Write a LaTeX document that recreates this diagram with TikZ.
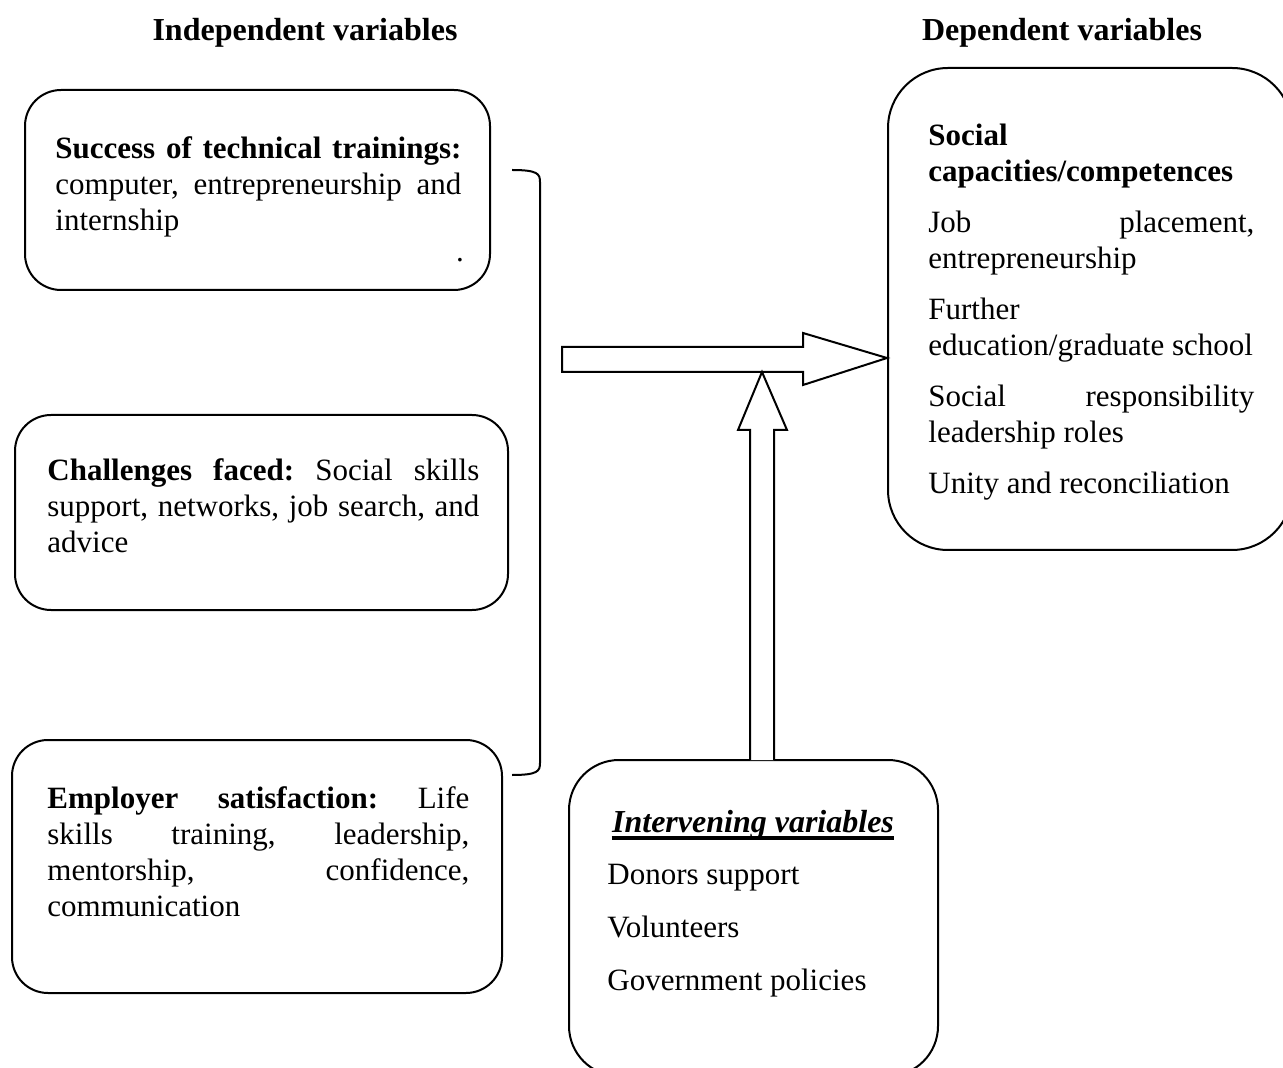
\documentclass[tikz,border=0pt]{standalone}
\usepackage{fontspec}
\setmainfont{Liberation Serif}
\usetikzlibrary{fit}
\hyphenpenalty=10000
\exhyphenpenalty=10000
\tolerance=10000

\tikzset{
  heading/.style={anchor=base, inner sep=0pt, font=\fontsize{16}{18}\selectfont\bfseries},
  varbox/.style={draw, line width=1pt, rounded corners=18pt, inner sep=0pt},
  vartext/.style={anchor=north west, inner sep=0pt, align=justify, font=\fontsize{15.5}{18}\selectfont\frenchspacing},
  blockarrow/.style={draw, line width=1pt, fill=white, line join=miter},
}
\newcommand{\itemgap}{\par\vspace{7.5pt}}

\begin{document}
\begin{tikzpicture}[x=0.5pt, y=-0.5pt]
        \useasboundingbox (0,0) rectangle (1283,1068);
        \clip (0,0) rectangle (1283,1068);

        % Headings
        \node[heading] (indep) at (305,41) {Independent variables};
        \node[heading] (dep) at (1062,41) {Dependent variables};

        % Boxes for independent variables
        \node[varbox, fit={(25,90) (490,290)}] (succbox) {};
        \node[varbox, fit={(15,415) (508,610)}] (chalbox) {};
        \node[varbox, fit={(12,740) (502,993)}] (empbox) {};

        \node[vartext, text width=203pt] (succtext) at (55,136)
            {\textbf{Success of technical trainings:} computer, entrepreneurship and internship};
        \node[anchor=base, inner sep=0pt, font=\fontsize{15.5}{18}\selectfont] (dot) at (460,262) {.};
        \node[vartext, text width=216pt] (chaltext) at (47,458)
            {\textbf{Challenges faced:} Social skills support, networks, job search, and advice};
        \node[vartext, text width=211pt] (emptext) at (47,786)
            {\textbf{Employer satisfaction:} Life skills training, leadership, mentorship, confidence, communication};

        % Box for dependent variables
        \node[varbox, rounded corners=30pt, fit={(888,68) (1292,550)}] (depbox) {};
        \node[vartext, text width=163pt] (deptext) at (928,124)
            {\textbf{Social capacities/competences}\itemgap
             Job placement, entrepreneurship\itemgap
             Further education/graduate school\itemgap
             Social responsibility leadership roles\itemgap
             Unity and reconciliation};

        % Box for intervening variables
        \node[varbox, rounded corners=25pt, fit={(569,760) (938,1076)}] (intbox) {};
        \node[anchor=base, inner sep=0pt, font=\fontsize{16}{18}\selectfont\bfseries\itshape] (inttitle) at (753,832) {Intervening variables};
        \draw[line width=1.6pt] ([yshift=-3pt]inttitle.base west) -- ([yshift=-3pt]inttitle.base east);
        \node[vartext, align=left] (inttext) at (607,864)
            {Donors support\\[8.5pt] Volunteers\\[8.5pt] Government policies};

        % Bracket joining the independent variables
        \draw[line width=1pt] (512,170) .. controls (538,170) and (540,174) .. (540,182)
            -- (540,763) .. controls (540,771) and (538,775) .. (512,775);

        % Block arrows
        \draw[blockarrow] (562,347) -- (803,347) -- (803,333) -- (887,358)
            -- (803,385) -- (803,372) -- (562,372) -- cycle;
        \draw[blockarrow] (750,760) -- (750,430) -- (738,430) -- (762,372)
            -- (787,430) -- (774,430) -- (774,760);

\end{tikzpicture}
\end{document}
